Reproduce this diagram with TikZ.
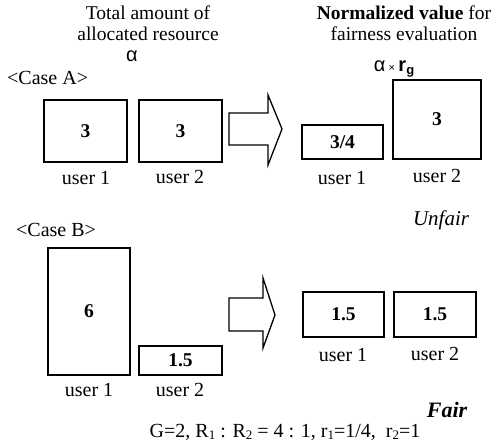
\documentclass[tikz,border=0pt]{standalone}
\usepackage{fontspec}
\setmainfont{Liberation Serif}
\newfontfamily\grk{Liberation Sans}
\usetikzlibrary{positioning}
\tikzset{box/.style={draw,line width=1.8pt,inner sep=0pt,font=\fontsize{19.5}{20}\selectfont\bfseries},
  lbl/.style={inner sep=0pt},
  head/.style={inner sep=0pt,align=center,font=\fontsize{19.5}{21}\selectfont},
  blk/.style={draw,line width=1.3pt,line join=miter}}
\newcommand{\rsub}[1]{\raisebox{-0.25ex}{\fontsize{13}{13}\selectfont #1}}

\begin{document}
\begin{tikzpicture}[x=1pt,y=-1pt,font=\fontsize{20}{22}\selectfont]
  \useasboundingbox (0,0) rectangle (500,447);
  % headings
  \node[head] (tl) at (148,23) {Total amount of\\allocated resource};
  \node[lbl] (ta) at (132,56) {\grk α};
  \node[head] (tr) at (404,23) {\textbf{Normalized value} for\\fairness evaluation};
  \node[lbl] (tra) at (394,69) {\grk α\,{\fontsize{11}{11}\selectfont×}\,\textbf{r\rsub{g}}};
  % case A
  \node[lbl,anchor=west] (ca) at (7,78) {<Case A>};
  \node[box,minimum width=83,minimum height=62] (a1) at (85.5,131) {3};
  \node[box,minimum width=83,minimum height=62] (a2) at (180.5,131) {3};
  \draw[blk] (229,113) -- (268,113) -- (268,95) -- (282,129) -- (268,165) -- (268,145) -- (229,145) -- cycle;
  \node[box,minimum width=81,minimum height=34] (na1) at (342.5,142) {3/4};
  \node[box,minimum width=88,minimum height=79] (na2) at (437,119.5) {3};
  \foreach \n/\x/\y/\t in {ua1/86/178/1, ua2/180/177/2, una1/342/178/1, una2/437/176/2}
    \node[lbl] (\n) at (\x,\y) {user \t};
  \node[lbl] (uf) at (441,220) {\fontsize{21}{22}\selectfont\itshape Unfair};
  % case B
  \node[lbl,anchor=west] (cb) at (16,230) {<Case B>};
  \node[box,minimum width=82,minimum height=127] (b1) at (89,311.5) {6};
  \node[box,minimum width=83,minimum height=29] (b2) at (180.5,360.5) {1.5};
  \draw[blk] (229,298) -- (263,298) -- (263,278) -- (275,315) -- (263,348) -- (263,331) -- (229,331) -- cycle;
  \node[box,minimum width=81,minimum height=45] (nb1) at (343.5,314.5) {1.5};
  \node[box,minimum width=82,minimum height=45] (nb2) at (435,314.5) {1.5};
  \foreach \n/\x/\y/\t in {ub1/89/390/1, ub2/180/390/2, unb1/343/355/1, unb2/435/354/2}
    \node[lbl] (\n) at (\x,\y) {user \t};
  \node[lbl] (fr) at (447,410) {\fontsize{22}{22}\selectfont\bfseries\itshape Fair};
  \node[lbl] (gl) at (285,432) {G=2, R\rsub{1} : R\rsub{2} = 4 : 1, r\rsub{1}=1/4,\ \ r\rsub{2}=1};
\end{tikzpicture}
\end{document}
